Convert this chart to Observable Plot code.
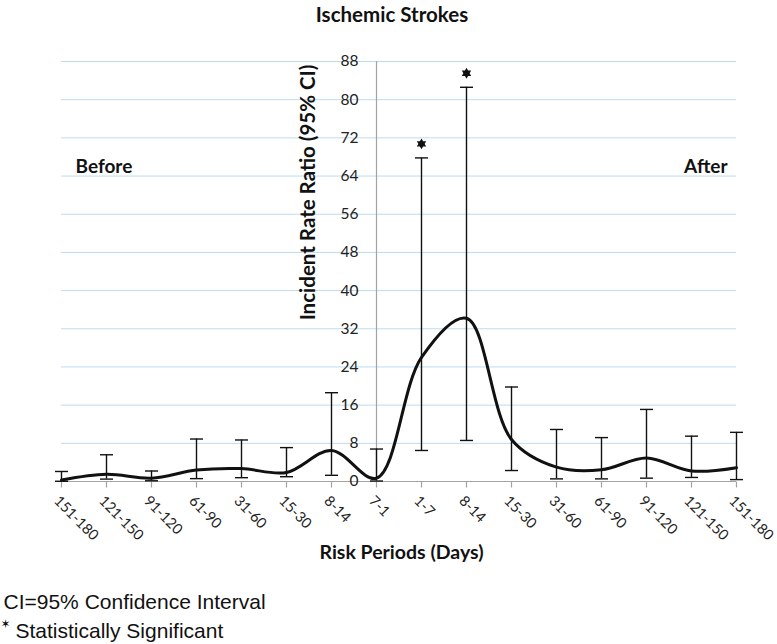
<!DOCTYPE html>
<html>
<head>
<meta charset="utf-8">
<script src="https://cdn.jsdelivr.net/npm/d3@7"></script>
<script src="https://cdn.jsdelivr.net/npm/@observablehq/plot@0.6"></script>
<style>
  html, body { margin: 0; padding: 0; background: #fff; }
  #chart { width: 777px; height: 644px; overflow: hidden; }
</style>
</head>
<body>
<div id="chart"></div>
<script>
// ---- data ----
const periods = ["151-180","121-150","91-120","61-90","31-60","15-30","8-14","7-1","1-7","8-14","15-30","31-60","61-90","91-120","121-150","151-180"];
const irr     = [0.3, 1.5, 0.7, 2.4, 2.7, 1.9, 6.5, 0.7, 26.0, 34.2, 8.8, 3.0, 2.45, 4.9, 2.2, 2.9];
const ciLow   = [0.05, 0.5, 0.15, 0.6, 0.8, 1.0, 1.3, 0.1, 6.5, 8.6, 2.3, 0.55, 0.55, 0.7, 0.85, 0.4];
const ciHigh  = [2.1, 5.6, 2.2, 8.9, 8.7, 7.1, 18.6, 6.8, 67.8, 82.6, 19.8, 10.9, 9.2, 15.1, 9.5, 10.3];
const significant = [false,false,false,false,false,false,false,false,true,true,false,false,false,false,false,false];
const yTicks = [0, 8, 16, 24, 32, 40, 48, 56, 64, 72, 80, 88];
const axisPeriod = "7-1";

const title = "Ischemic Strokes";
const yLabel = "Incident Rate Ratio (95% CI)";
const xLabel = "Risk Periods (Days)";
const legendLines = ["CI=95% Confidence Interval", "Statistically Significant"];

const data = periods.map((p, i) => ({i, period: p, irr: irr[i], lo: ciLow[i], hi: ciHigh[i], sig: significant[i]}));
const axisIndex = periods.indexOf(axisPeriod);

// custom symbols
const capSymbol = {draw(ctx) { ctx.moveTo(-6.5, 0); ctx.lineTo(6.5, 0); }};
const tickSymbol = {draw(ctx) { ctx.moveTo(0, 0); ctx.lineTo(0, 6); }};
const hexagram = {draw(ctx) {
  const r = 5.4;
  for (const start of [-90, 90]) {
    for (let k = 0; k < 3; k++) {
      const a = (start + k * 120) * Math.PI / 180;
      const px = r * Math.cos(a), py = r * Math.sin(a);
      if (k === 0) ctx.moveTo(px, py); else ctx.lineTo(px, py);
    }
    ctx.closePath();
  }
}};

const ink = "#111";
const font = "Lato, 'Open Sans', sans-serif";
const legendFont = "'Liberation Sans', Arial, sans-serif";

const chart = Plot.plot({
  width: 777,
  height: 644,
  marginLeft: 61,
  marginRight: 41,
  marginTop: 61,
  marginBottom: 163,
  x: {domain: [0, periods.length - 1], axis: null},
  y: {domain: [0, 88], axis: null},
  style: {fontFamily: font, background: "white", color: ink},
  marks: [
    // gridlines
    Plot.ruleY(yTicks.filter(t => t > 0), {stroke: "#bcdcef", strokeWidth: 1}),
    // x axis line and ticks
    Plot.ruleY([0], {stroke: "#a3a3a3", strokeWidth: 1.2}),
    Plot.dot(data, {x: "i", y: () => 0, symbol: tickSymbol, stroke: "#a3a3a3", fill: "none", strokeWidth: 1.2}),
    // y axis line in the middle
    Plot.ruleX([axisIndex], {y1: 0, y2: yTicks[yTicks.length - 1], insetTop: -8, stroke: "#a3a3a3", strokeWidth: 1.2}),
    // y tick labels
    Plot.text(yTicks, {x: () => axisIndex, y: d => d, text: d => String(d), textAnchor: "end", dx: -18, fontSize: 15.5, fill: "#222"}),
    // x tick labels (rotated)
    Plot.text(data, {x: "i", y: () => 0, text: "period", rotate: 45, textAnchor: "start", dx: -5, dy: 17, fontSize: 14.5, fill: "#222"}),
    // error bars
    Plot.ruleX(data, {x: "i", y1: "lo", y2: "hi", stroke: ink, strokeWidth: 1.4}),
    Plot.dot(data, {x: "i", y: "lo", symbol: capSymbol, stroke: ink, fill: "none", strokeWidth: 1.4}),
    Plot.dot(data, {x: "i", y: "hi", symbol: capSymbol, stroke: ink, fill: "none", strokeWidth: 1.4}),
    // smoothed IRR line
    Plot.line(data, {x: "i", y: "irr", curve: "catmull-rom", stroke: ink, strokeWidth: 3}),
    // significance stars
    Plot.dot(data.filter(d => d.sig), {x: "i", y: "hi", dy: -14, symbol: hexagram, fill: ink, stroke: "none"}),
    // titles
    Plot.text([title], {frameAnchor: "top", dx: -7, dy: -46, lineAnchor: "middle", fontWeight: "bold", fontSize: 20.5, fill: ink}),
    Plot.text([yLabel], {frameAnchor: "left", dx: 247, dy: -79, rotate: -90, textAnchor: "middle", lineAnchor: "middle", fontWeight: "bold", fontSize: 20.5, fill: ink}),
    Plot.text([xLabel], {frameAnchor: "bottom", dx: 2.5, dy: 71, lineAnchor: "middle", fontWeight: "bold", fontSize: 19.5, fill: ink}),
    Plot.text(["Before"], {frameAnchor: "top-left", dx: 14, dy: 105, textAnchor: "start", lineAnchor: "middle", fontWeight: "bold", fontSize: 19, fill: ink}),
    Plot.text(["After"], {frameAnchor: "top-right", dx: -9, dy: 105, textAnchor: "end", lineAnchor: "middle", fontWeight: "bold", fontSize: 19, fill: ink}),
    // legend
    Plot.text([legendLines[0]], {frameAnchor: "bottom-left", dx: -58, dy: 121, textAnchor: "start", lineAnchor: "middle", fontFamily: legendFont, fontSize: 21, fill: ink}),
    Plot.text(["\u2736"], {frameAnchor: "bottom-left", dx: -61, dy: 143, textAnchor: "start", lineAnchor: "middle", fontFamily: "'DejaVu Sans', sans-serif", fontSize: 12, fill: ink}),
    Plot.text([legendLines[1]], {frameAnchor: "bottom-left", dx: -46, dy: 150, textAnchor: "start", lineAnchor: "middle", fontFamily: legendFont, fontSize: 21, fill: ink})
  ]
});
document.getElementById("chart").appendChild(chart);
</script>
</body>
</html>
